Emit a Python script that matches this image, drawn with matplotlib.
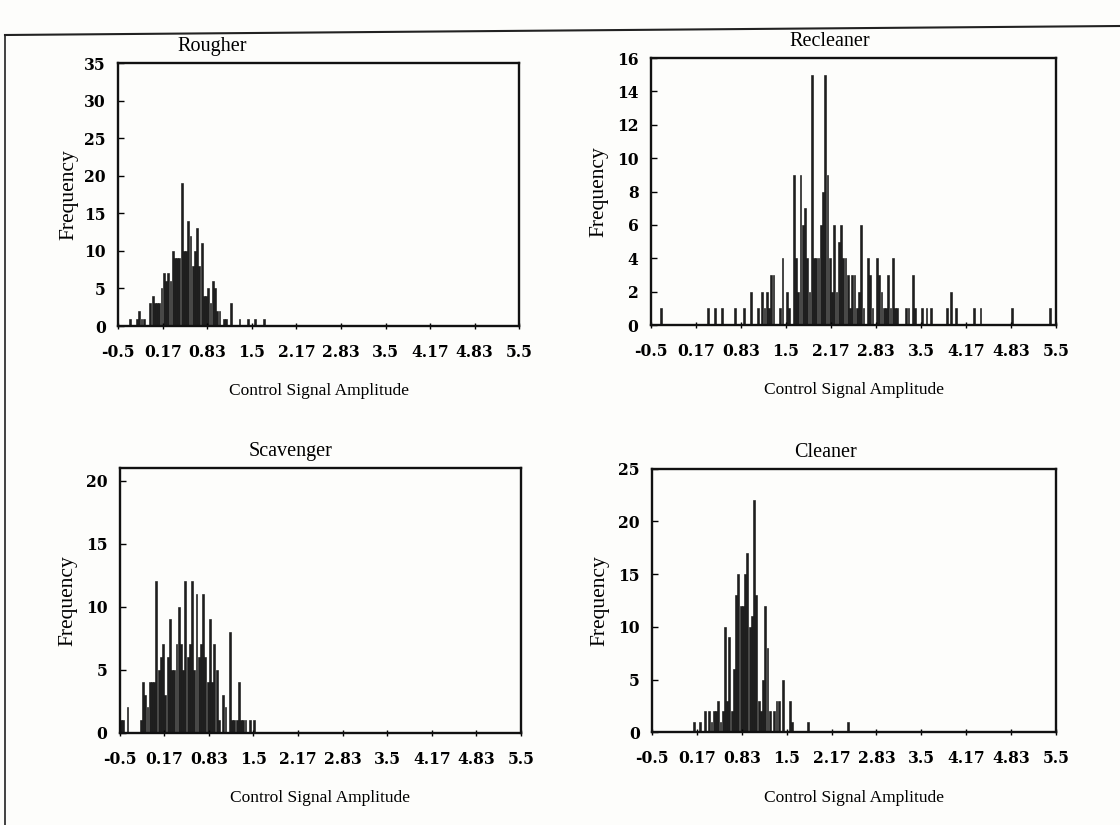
import matplotlib
matplotlib.use("Agg")
import matplotlib.pyplot as plt
from matplotlib.lines import Line2D
import numpy as np

# ---------------- data ----------------
BIN_W = 1.0 / 30.0          # histogram bin width
X_START = -0.5
xtick_labels = ['-0.5', '0.17', '0.83', '1.5', '2.17', '2.83', '3.5', '4.17', '4.83', '5.5']
xtick_values = [-0.5, 0.1667, 0.8333, 1.5, 2.1667, 2.8333, 3.5, 4.1667, 4.8333, 5.5]

rougher_bins = [5, 8, 9, 10, 11, 14, 15, 16, 17, 18, 19, 20, 21, 22, 23, 24, 25, 26, 27, 28,
                29, 30, 31, 32, 33, 34, 35, 36, 37, 38, 39, 40, 41, 42, 43, 44, 45, 47, 48, 50,
                54, 58, 61, 65]
rougher_counts = [1, 1, 2, 1, 1, 3, 4, 3, 3, 3, 5, 7, 6, 7, 6, 10, 9, 9, 9, 19,
                  10, 10, 14, 12, 8, 10, 13, 8, 11, 4, 4, 5, 3, 6, 5, 2, 2, 1, 1, 3,
                  1, 1, 1, 1]

recleaner_bins = [4, 25, 28, 31, 37, 41, 44, 47, 49, 50, 51, 52, 53, 54, 57, 58, 60, 61, 63, 64,
                  65, 66, 67, 68, 69, 70, 71, 72, 73, 74, 75, 76, 77, 78, 79, 80, 81, 82, 83, 84,
                  85, 86, 87, 88, 89, 90, 91, 92, 93, 94, 96, 97, 98, 100, 101, 102, 103, 104, 105, 106,
                  107, 108, 109, 113, 114, 116, 117, 120, 122, 124, 131, 133, 135, 143, 146, 160, 177]
recleaner_counts = [1, 1, 1, 1, 1, 1, 2, 1, 2, 1, 2, 1, 3, 3, 1, 4, 2, 1, 9, 4,
                    2, 9, 6, 7, 4, 2, 15, 4, 4, 4, 6, 8, 15, 9, 4, 2, 6, 2, 5, 6,
                    4, 4, 3, 1, 3, 3, 1, 2, 6, 1, 4, 3, 1, 4, 3, 2, 1, 1, 3, 1,
                    4, 1, 1, 1, 1, 3, 1, 1, 1, 1, 1, 2, 1, 1, 1, 1, 1]

scavenger_bins = [0, 1, 3, 9, 10, 11, 12, 13, 14, 15, 16, 17, 18, 19, 20, 21, 22, 23, 24, 25,
                  26, 27, 28, 29, 30, 31, 32, 33, 34, 35, 36, 37, 38, 39, 40, 41, 42, 43, 44, 46,
                  47, 49, 50, 51, 52, 53, 54, 55, 56, 58, 60]
scavenger_counts = [1, 1, 2, 1, 4, 3, 2, 4, 4, 4, 12, 5, 6, 7, 3, 6, 9, 5, 5, 7,
                    10, 7, 5, 12, 6, 7, 12, 5, 11, 6, 7, 11, 6, 4, 9, 4, 7, 5, 1, 3,
                    2, 8, 1, 1, 1, 4, 1, 1, 1, 1, 1]

cleaner_bins = [18, 21, 23, 25, 26, 27, 28, 29, 30, 31, 32, 33, 34, 35, 36, 37, 38, 39, 40, 41,
                42, 43, 44, 45, 46, 47, 48, 49, 50, 51, 52, 54, 55, 56, 58, 61, 62, 69, 87]
cleaner_counts = [1, 1, 2, 2, 1, 2, 2, 3, 1, 2, 10, 3, 9, 2, 6, 13, 15, 12, 12, 15,
                  17, 10, 11, 22, 13, 3, 2, 5, 12, 8, 2, 2, 3, 3, 5, 3, 1, 1, 1]

panels = [
    dict(title='Rougher', bins=rougher_bins, counts=rougher_counts, ymax=35, yticks=[0, 5, 10, 15, 20, 25, 30, 35],
         rect=[0.1056, 0.6048, 0.3580, 0.3188], title_x=0.235, ylabelpad=4),
    dict(title='Recleaner', bins=recleaner_bins, counts=recleaner_counts, ymax=16, yticks=[0, 2, 4, 6, 8, 10, 12, 14, 16],
         rect=[0.5813, 0.6060, 0.3616, 0.3236], title_x=0.44, ylabelpad=6),
    dict(title='Scavenger', bins=scavenger_bins, counts=scavenger_counts, ymax=21, yticks=[0, 5, 10, 15, 20],
         rect=[0.1070, 0.1119, 0.3580, 0.3208], title_x=0.425, ylabelpad=6),
    dict(title='Cleaner', bins=cleaner_bins, counts=cleaner_counts, ymax=25, yticks=[0, 5, 10, 15, 20, 25],
         rect=[0.5824, 0.1124, 0.3602, 0.3196], title_x=0.43, ylabelpad=6),
]

# ---------------- drawing ----------------
SERIF = ['Liberation Serif', 'DejaVu Serif']
TICKFONT = dict(family=['DejaVu Serif'], weight='bold', size=11.2)

fig = plt.figure(figsize=(11.2, 8.25), dpi=100)
fig.patch.set_facecolor('#fdfdfb')

for p in panels:
    ax = fig.add_axes(p['rect'])
    ax.set_facecolor('#fdfdfb')
    lefts = X_START + np.asarray(p['bins']) * BIN_W
    ax.bar(lefts, p['counts'], width=BIN_W * 0.85, align='edge',
           color='#1e1e1e', edgecolor='#111111', linewidth=0.4)
    ax.set_xlim(-0.5, 5.5)
    ax.set_ylim(0, p['ymax'])
    ax.set_xticks(xtick_values)
    ax.set_xticklabels(xtick_labels, fontdict=TICKFONT)
    ax.set_yticks(p['yticks'])
    ax.set_yticklabels([str(v) for v in p['yticks']], fontdict=TICKFONT)
    ax.tick_params(axis='x', direction='inout', length=4, width=1, pad=11)
    ax.tick_params(axis='y', direction='in', length=4, width=1, pad=9)
    for s in ax.spines.values():
        s.set_linewidth(1.7)
        s.set_color('#111111')
    ax.text(p['title_x'], 1.025, p['title'], transform=ax.transAxes, ha='center', va='bottom',
            fontsize=14.5, family=SERIF)
    ax.set_xlabel('Control Signal Amplitude', fontsize=12.5, family=SERIF, labelpad=16)
    ax.set_ylabel('Frequency', fontsize=15.5, family=SERIF, labelpad=p['ylabelpad'])

# page frame remnants (scan border)
W, H = 1120.0, 825.0
fig.add_artist(Line2D([5 / W, 5 / W], [1 - 35 / H, 0.0], color='#222222', linewidth=1.2))
fig.add_artist(Line2D([5 / W, 1120 / W], [1 - 35 / H, 1 - 26 / H], color='#222222', linewidth=1.5))

fig.savefig('out.png', dpi=100, facecolor=fig.get_facecolor())
